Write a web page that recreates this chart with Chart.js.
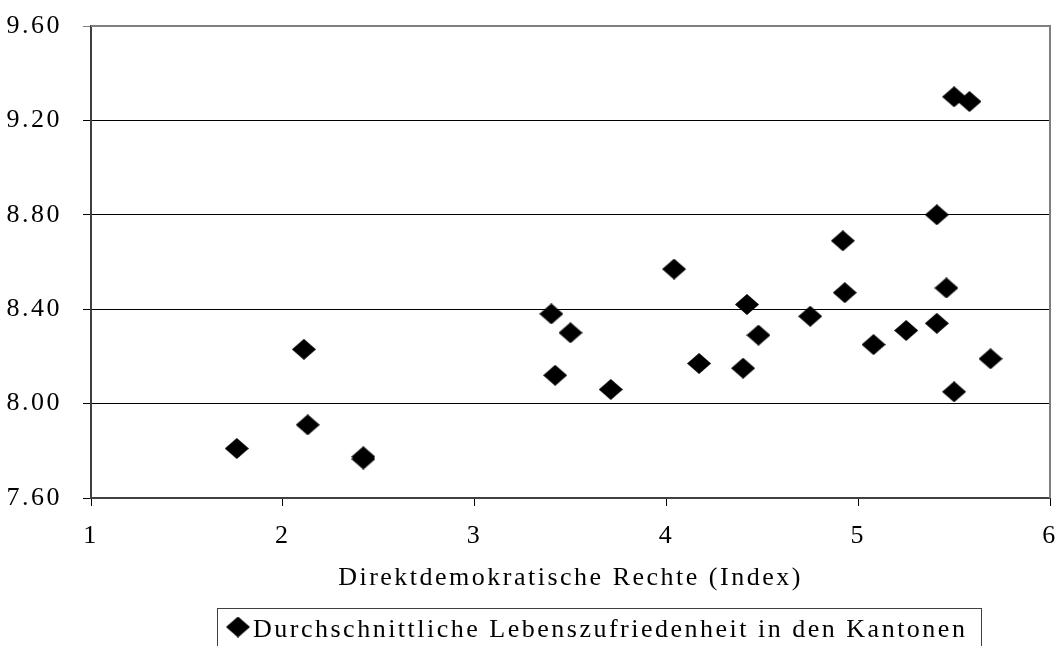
<!DOCTYPE html>
<html lang="de">
<head>
<meta charset="utf-8">
<title>Direktdemokratische Rechte und Lebenszufriedenheit</title>
<script src="https://cdn.jsdelivr.net/npm/chart.js@4.4.1/dist/chart.umd.min.js"></script>
<style>
  html, body { margin: 0; padding: 0; background: #fff; }
  #wrap { width: 1058px; height: 646px; position: relative; }
</style>
</head>
<body>
<div id="wrap"><canvas id="scatter"></canvas></div>
<script>
// Werte (Index der Volksrechte vs. Lebenszufriedenheit)
const xIndex = [1.76, 2.11, 2.13, 2.42, 2.42, 3.40, 3.42, 3.50, 3.71, 4.04, 4.17, 4.40, 4.42,
                4.48, 4.75, 4.92, 4.93, 5.08, 5.25, 5.41, 5.41, 5.46, 5.50, 5.50, 5.58, 5.69];
const yZufriedenheit = [7.81, 8.23, 7.91, 7.775, 7.765, 8.38, 8.12, 8.30, 8.06, 8.57, 8.17, 8.15, 8.42,
                        8.29, 8.37, 8.69, 8.47, 8.25, 8.31, 8.80, 8.34, 8.49, 8.05, 9.30, 9.28, 8.19];
const xTicks = [1, 2, 3, 4, 5, 6];
const yTicks = [7.6, 8.0, 8.4, 8.8, 9.2, 9.6];
const seriesLabel = "Durchschnittliche Lebenszufriedenheit in den Kantonen";
const xTitle = "Direktdemokratische Rechte (Index)";

(function () {
  "use strict";
  const FONT = "'Liberation Serif', 'Times New Roman', serif";
  const SPACING = "2.5px";
  const AXIS = "#404040", FRAME = "#808080";
  Chart.defaults.font.family = FONT;
  Chart.defaults.font.size = 26;
  Chart.defaults.color = "#000";

  // Raute wie im Excel-Original (etwas breiter als hoch)
  const diamond = document.createElement("canvas");
  diamond.width = 24; diamond.height = 21;
  const d = diamond.getContext("2d");
  d.fillStyle = "#000";
  d.beginPath(); d.moveTo(0, 10.5); d.lineTo(12, 0); d.lineTo(24, 10.5); d.lineTo(12, 21); d.closePath(); d.fill();

  // gesperrte Schrift wie im Original
  const spacing = {
    id: "spacing",
    beforeLayout: c => { c.ctx.letterSpacing = SPACING; },
    beforeDraw: c => { c.ctx.letterSpacing = SPACING; }
  };

  const frame = {
    id: "frame",
    afterDraw(c) {
      const { ctx, chartArea: a } = c;
      ctx.save();
      ctx.strokeStyle = FRAME; ctx.lineWidth = 2;
      ctx.beginPath(); ctx.moveTo(a.left, a.top); ctx.lineTo(a.right, a.top); ctx.lineTo(a.right, a.bottom); ctx.stroke();
      ctx.restore();
    }
  };

  // Legende mit Rahmen, leicht rechts von der Mitte (wie Excel)
  const boxLegend = {
    id: "boxLegend",
    afterDraw(c) {
      const ctx = c.ctx;
      ctx.save();
      ctx.letterSpacing = SPACING;
      ctx.strokeStyle = AXIS; ctx.lineWidth = 1;
      ctx.strokeRect(217.5, 608.5, 764, 60);
      ctx.drawImage(diamond, 238 - 12, 627 - 10.5);
      ctx.font = "26px " + FONT;
      ctx.fillStyle = "#000";
      ctx.textBaseline = "alphabetic";
      ctx.textAlign = "left";
      ctx.fillText(c.data.datasets[0].label, 253, 637);
      ctx.restore();
    }
  };

  const points = xIndex.map((x, i) => ({ x: x, y: yZufriedenheit[i] }));

  new Chart(document.getElementById("scatter"), {
    type: "scatter",
    data: { datasets: [{ label: seriesLabel, data: points, pointStyle: diamond, backgroundColor: "#000", borderColor: "#000" }] },
    options: {
      responsive: true, maintainAspectRatio: false, animation: false,
      layout: { padding: { left: 0, top: 26, right: 8, bottom: 0 } },
      plugins: { legend: { display: false }, tooltip: { enabled: false } },
      scales: {
        x: {
          type: "linear", min: xTicks[0], max: xTicks[xTicks.length - 1],
          afterFit: s => { s.height = 148; s.paddingLeft = 0; s.paddingRight = 0; },
          afterBuildTicks: s => { s.ticks = xTicks.map(v => ({ value: v })); },
          ticks: { padding: 15, callback: v => String(v) },
          grid: { drawOnChartArea: false, drawTicks: true, tickLength: 8, color: "#000" },
          border: { color: AXIS, width: 2 },
          title: { display: true, text: xTitle, padding: { top: 0, bottom: 52 } }
        },
        y: {
          type: "linear", min: yTicks[0], max: yTicks[yTicks.length - 1],
          afterFit: s => { s.width = 91; s.paddingTop = 0; s.paddingBottom = 0; },
          afterBuildTicks: s => { s.ticks = yTicks.map(v => ({ value: v })); },
          ticks: { padding: 21, callback: v => v.toFixed(2) },
          grid: { tickLength: 8, color: c => (c.tick && c.tick.value === yTicks[yTicks.length - 1]) ? FRAME : "#000" },
          border: { color: AXIS, width: 2 }
        }
      }
    },
    plugins: [spacing, frame, boxLegend]
  });
})();
</script>
</body>
</html>
